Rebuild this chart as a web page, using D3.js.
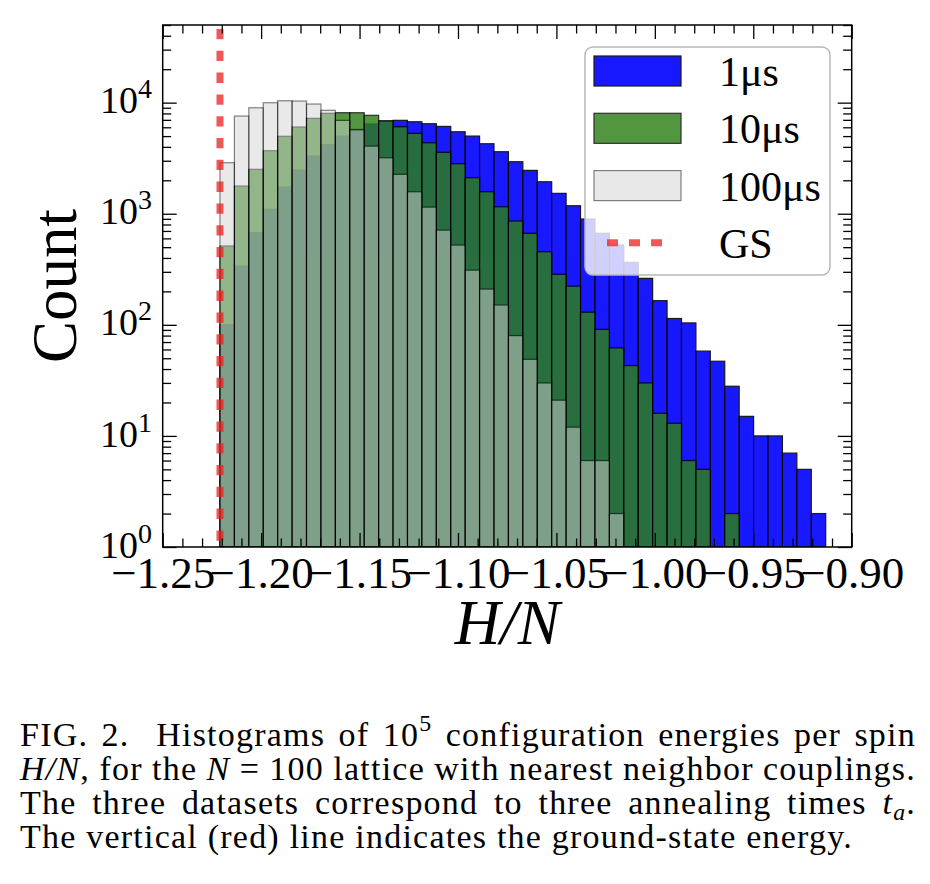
<!DOCTYPE html>
<html><head><meta charset="utf-8">
<script src="https://cdn.jsdelivr.net/npm/d3@7"></script>
<style>body{margin:0;background:#fff} svg{display:block}</style>
</head><body>
<svg id="c" width="930" height="884"></svg>
<script>
// ---------------- DATA ----------------
const binStart = -1.2209;      // left edge of first histogram bin (H/N)
const binWidth = 0.007326;     // histogram bin width (H/N)
const counts1us = [100, 338, 675, 1095, 1740, 2473, 3305, 4180, 5000, 5750,
  6420, 6840, 6930, 6730, 6460, 6110, 5470, 5000, 4265, 3615,
  2938, 2456, 1940, 1525, 1180, 896, 667, 523, 365, 262,
  165, 114, 104, 58, 47, 28, 15, 10, 10, 7, 5, 2];
const counts10us = [512, 1775, 2510, 3690, 4980, 6030, 7220, 8015, 8110, 8110,
  7690, 6850, 6070, 5290, 4355, 3570, 2820, 2110, 1578, 1156,
  860, 667, 455, 285, 223, 130, 91, 62, 43, 30,
  16, 13, 6, 5, 0, 2, 0, 0, 0, 0, 0, 0];
const counts100us = [2878, 7570, 8990, 9980, 10400, 10330, 9710, 8530, 6930, 5700,
  4065, 3190, 2264, 1578, 1148, 713, 523, 311, 210, 151,
  80, 49, 30, 21, 12, 6, 6, 2, 0, 0,
  0, 0, 0, 0, 0, 0, 0, 0, 0, 0, 0, 0];
const seriesNames = ["1μs", "10μs", "100μs"];
const groundStateEnergy = -1.2209;
const xTickValues = [-1.25, -1.20, -1.15, -1.10, -1.05, -1.00, -0.95, -0.90];
const yTickValues = [1, 10, 100, 1000, 10000];
const xDomain = [-1.25, -0.90];
const yDomain = [1, 5e4];

// ---------------- STYLE ----------------
const serif = "'Liberation Serif','Times New Roman',serif";
const seriesStyle = [
  {fill: "#0000ff", op: 0.9},
  {fill: "#2d8116", op: 0.82},
  {fill: "#d3d3d3", op: 0.5}
];
const M = {left: 162.7, right: 851.7, top: 25, bottom: 547};

const svg = d3.select("#c");
const x = d3.scaleLinear().domain(xDomain).range([M.left, M.right]);
const y = d3.scaleLog().domain(yDomain).range([M.bottom, M.top]);

svg.append("defs").append("clipPath").attr("id", "clip")
  .append("rect").attr("x", M.left).attr("y", M.top)
  .attr("width", M.right - M.left).attr("height", M.bottom - M.top);

const plot = svg.append("g").attr("clip-path", "url(#clip)");

const allCounts = [counts1us, counts10us, counts100us];
allCounts.forEach((counts, si) => {
  const bins = counts.map((c, i) => ({x0: binStart + i * binWidth, x1: binStart + (i + 1) * binWidth, c}))
    .filter(d => d.c > 0);
  plot.append("g").selectAll("rect").data(bins).join("rect")
    .attr("x", d => x(d.x0)).attr("width", d => x(d.x1) - x(d.x0))
    .attr("y", d => y(d.c)).attr("height", d => y(1) - y(d.c))
    .attr("fill", seriesStyle[si].fill)
    .attr("stroke", "#000").attr("stroke-width", 1.2)
    .attr("opacity", seriesStyle[si].op);
});

// ground state line
plot.append("line")
  .attr("x1", x(groundStateEnergy)).attr("x2", x(groundStateEnergy))
  .attr("y1", M.top).attr("y2", M.bottom)
  .attr("stroke", "#e8201e").attr("stroke-opacity", 0.75)
  .attr("stroke-width", 7).attr("stroke-dasharray", "10.3 11.5").attr("stroke-dashoffset", 17.8);

// ---------------- AXES ----------------
const xMinor = x.ticks(35).filter(v => !xTickValues.some(t => Math.abs(t - v) < 1e-9));
const yMinor = y.ticks().filter(v => !yTickValues.includes(v));

function styleAxis(g) {
  g.select(".domain").remove();
  g.selectAll("line").attr("stroke", "#000").attr("stroke-width", 1.3);
}
// bottom
svg.append("g").attr("transform", `translate(0,${M.bottom})`)
  .call(d3.axisBottom(x).tickValues(xMinor).tickSize(-8.5).tickFormat("")).call(styleAxis);
const gxb = svg.append("g").attr("transform", `translate(0,${M.bottom})`)
  .call(d3.axisBottom(x).tickValues(xTickValues).tickSize(-14).tickPadding(9).tickFormat(d3.format(".2f")))
  .call(styleAxis);
gxb.selectAll("text").attr("font-family", serif).attr("font-size", 45).attr("fill", "#000");
// top
svg.append("g").attr("transform", `translate(0,${M.top})`)
  .call(d3.axisTop(x).tickValues(xMinor).tickSize(-8.5).tickFormat("")).call(styleAxis);
svg.append("g").attr("transform", `translate(0,${M.top})`)
  .call(d3.axisTop(x).tickValues(xTickValues).tickSize(-14).tickFormat("")).call(styleAxis);
// left
svg.append("g").attr("transform", `translate(${M.left},0)`)
  .call(d3.axisLeft(y).tickValues(yMinor).tickSize(-8.5).tickFormat("")).call(styleAxis);
svg.append("g").attr("transform", `translate(${M.left},0)`)
  .call(d3.axisLeft(y).tickValues(yTickValues).tickSize(-14).tickFormat("")).call(styleAxis);
// right
svg.append("g").attr("transform", `translate(${M.right},0)`)
  .call(d3.axisRight(y).tickValues(yMinor).tickSize(-8.5).tickFormat("")).call(styleAxis);
svg.append("g").attr("transform", `translate(${M.right},0)`)
  .call(d3.axisRight(y).tickValues(yTickValues).tickSize(-14).tickFormat("")).call(styleAxis);

// y tick labels 10^k
const yl = svg.append("g").selectAll("text").data(yTickValues).join("text")
  .attr("x", 152).attr("y", d => y(d) + 10.6).attr("text-anchor", "end")
  .attr("font-family", serif).attr("font-size", 38).attr("fill", "#000");
yl.append("tspan").text("10");
yl.append("tspan").text(d => Math.round(Math.log10(d))).attr("font-size", 28).attr("dy", -15);

// frame
svg.append("rect").attr("x", M.left).attr("y", M.top)
  .attr("width", M.right - M.left).attr("height", M.bottom - M.top)
  .attr("fill", "none").attr("stroke", "#000").attr("stroke-width", 1.5);

// axis titles
svg.append("text").attr("transform", `translate(76,${(M.top + M.bottom) / 2}) rotate(-90)`)
  .attr("text-anchor", "middle").attr("font-family", serif).attr("font-size", 63).text("Count");
svg.append("text").attr("x", (M.left + M.right) / 2).attr("y", 644)
  .attr("text-anchor", "middle").attr("font-family", serif).attr("font-style", "italic")
  .attr("font-size", 63).text("H/N");

// ---------------- LEGEND ----------------
const lg = svg.append("g");
lg.append("rect").attr("x", 585).attr("y", 47).attr("width", 245).attr("height", 228).attr("rx", 8)
  .attr("fill", "#fff").attr("fill-opacity", 0.8).attr("stroke", "#b8b8b8").attr("stroke-width", 1.5);
seriesNames.forEach((name, i) => {
  lg.append("rect").attr("x", 594).attr("y", 56 + i * 57.3).attr("width", 87).attr("height", 30)
    .attr("fill", seriesStyle[i].fill).attr("stroke", "#000").attr("stroke-width", 1.2)
    .attr("opacity", seriesStyle[i].op);
  lg.append("text").attr("x", 719).attr("y", 86 + i * 57.3)
    .attr("font-family", serif).attr("font-size", 42).text(name);
});
lg.append("line").attr("x1", 607).attr("x2", 662).attr("y1", 242.7).attr("y2", 242.7)
  .attr("stroke", "#e8201e").attr("stroke-opacity", 0.75).attr("stroke-width", 7)
  .attr("stroke-dasharray", "11 11");
lg.append("text").attr("x", 719).attr("y", 86 + 3 * 57.3)
  .attr("font-family", serif).attr("font-size", 42).text("GS");

// ---------------- CAPTION ----------------
const capLines = [
  {words: [[["FIG."]], [["2."]], [["Histograms"]], [["of"]], [["10"], ["5", "sup"]], [["configuration"]], [["energies"]], [["per"]], [["spin"]]], wide: 1, justify: true},
  {words: [[["H/N", "it"], [","]], [["for"]], [["the"]], [["N", "it"]], [["="]], [["100"]], [["lattice"]], [["with"]], [["nearest"]], [["neighbor"]], [["couplings."]]], justify: true},
  {words: [[["The"]], [["three"]], [["datasets"]], [["correspond"]], [["to"]], [["three"]], [["annealing"]], [["times"]], [["t", "it"], ["a", "itsub"], ["."]]], justify: true},
  {words: [[["The"]], [["vertical"]], [["(red)"]], [["line"]], [["indicates"]], [["the"]], [["ground-state"]], [["energy."]]], justify: false}
];
const capG = svg.append("g");
const fs = 34;
function drawWord(segs, ls) {
  const t = capG.append("text").attr("font-family", serif).attr("font-size", fs)
    .attr("letter-spacing", ls).attr("fill", "#000");
  let shift = 0;
  segs.forEach(([txt, st]) => {
    const ts = t.append("tspan").text(txt);
    let target = 0;
    st = st || "";
    if (st.includes("it")) ts.attr("font-style", "italic");
    if (st.includes("sup")) { ts.attr("font-size", fs * 0.7); target = -fs * 0.42; }
    if (st.includes("sub")) { ts.attr("font-size", fs * 0.7); target = fs * 0.18; }
    if (target - shift !== 0) ts.attr("dy", target - shift);
    shift = target;
  });
  return t;
}
// slight letter-spacing so the last (unjustified) line ends at x≈853 like the reference
let ls = 0;
{
  const probe = capLines[3].words.map(w => drawWord(w, 0));
  const w0 = d3.sum(probe, t => t.node().getComputedTextLength()) + fs * 0.25 * (probe.length - 1);
  const nChars = d3.sum(capLines[3].words, w => d3.sum(w, s => s[0].length)) + (probe.length - 1);
  probe.forEach(t => t.remove());
  ls = Math.max(0, Math.min(1.6, (833 - w0) / nChars));
}
const capX0 = 20, capX1 = 916, capY0 = 745.5, capDy = 34.3;
capLines.forEach((line, li) => {
  const texts = line.words.map(w => drawWord(w, ls));
  const widths = texts.map(t => t.node().getComputedTextLength());
  const weights = widths.slice(1).map((_, i) => (line.wide !== undefined && i === line.wide) ? 2 : 1);
  let gap = fs * 0.25 + ls;
  if (line.justify) gap = (capX1 - capX0 - d3.sum(widths)) / d3.sum(weights);
  let cx = capX0;
  texts.forEach((t, i) => {
    t.attr("x", cx).attr("y", capY0 + li * capDy);
    cx += widths[i] + (i < weights.length ? gap * weights[i] : 0);
  });
});
</script>
</body></html>
